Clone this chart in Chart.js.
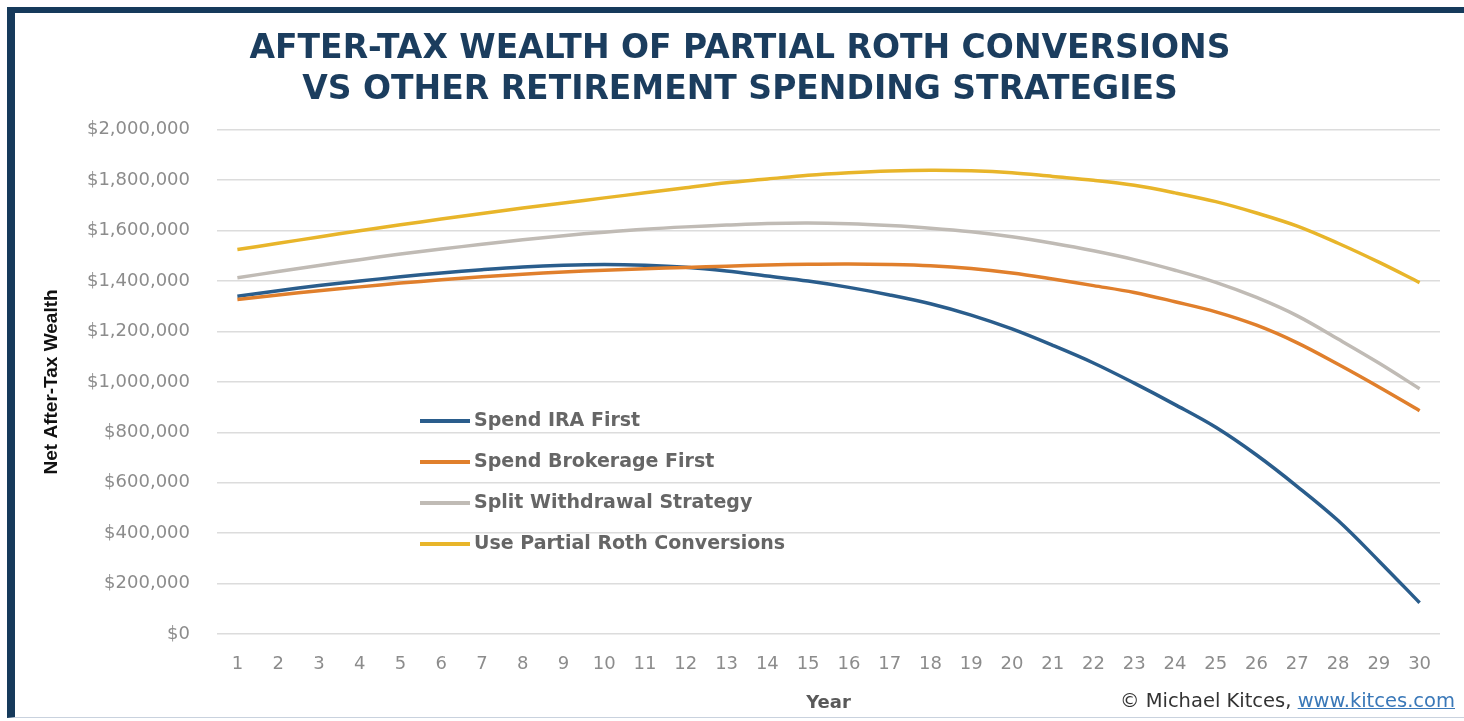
<!DOCTYPE html>
<html>
<head>
<meta charset="utf-8">
<title>After-Tax Wealth of Partial Roth Conversions</title>
<script src="https://cdn.jsdelivr.net/npm/chart.js@4.4.1/dist/chart.umd.min.js"></script>
<style>
  html, body { margin: 0; padding: 0; background: #fff; }
  body { width: 1464px; height: 721px; position: relative; overflow: hidden; }
  #frame {
    position: absolute; left: 7px; top: 7px; right: 0; bottom: 3px;
    border-left: 8px solid #163a5b; border-top: 6px solid #163a5b;
    border-bottom: 1px solid #c9d2de;
  }
  #chart { position: absolute; left: 0; top: 0; }
  #credit {
    position: absolute; right: 9px; top: 689px;
    font: 19.5px "DejaVu Sans", sans-serif; color: #333;
  }
  #credit a { color: #3a78b8; }
</style>
</head>
<body>
<div id="frame"></div>
<canvas id="chart" width="1464" height="721"></canvas>
<div id="credit">© Michael Kitces, <a href="#">www.kitces.com</a></div>

<script>
// years on the x axis
const years = ['1','2','3','4','5','6','7','8','9','10','11','12','13','14','15',
  '16','17','18','19','20','21','22','23','24','25','26','27','28','29','30'];

// net after-tax wealth
const spendIRA = [1340000,1362000,1382000,1400000,1417000,1432000,1445000,1456000,1463000,1466000,
  1463000,1455000,1440000,1420000,1400000,1375000,1345000,1310000,1265000,1210000,
  1145000,1075000,995000,910000,820000,710000,585000,450000,290000,124000];
const spendBrokerage = [1327000,1345000,1362000,1377000,1392000,1405000,1417000,1427000,1436000,1443000,
  1449000,1454000,1459000,1464000,1467000,1468000,1466000,1461000,1450000,1432000,
  1408000,1382000,1355000,1318000,1278000,1225000,1155000,1070000,980000,886000];
const splitWithdrawal = [1413000,1438000,1462000,1485000,1507000,1527000,1546000,1564000,1580000,1594000,
  1606000,1615000,1622000,1628000,1630000,1627000,1620000,1610000,1596000,1576000,
  1550000,1520000,1485000,1443000,1395000,1335000,1262000,1170000,1075000,973000];
const partialRoth = [1525000,1550000,1575000,1600000,1623000,1646000,1668000,1690000,1710000,1730000,
  1750000,1770000,1790000,1805000,1820000,1830000,1837000,1840000,1838000,1830000,
  1815000,1800000,1780000,1750000,1715000,1670000,1618000,1550000,1475000,1394000];

const yTicks = [0,200000,400000,600000,800000,1000000,1200000,1400000,1600000,1800000,2000000];

const seriesNames = ['Spend IRA First', 'Spend Brokerage First', 'Split Withdrawal Strategy', 'Use Partial Roth Conversions'];
const seriesColors = ['#2a5d8c', '#e07f2c', '#c0bbb5', '#e8b52a'];

// legend is drawn inside the plot, like the original
const inlineLegend = {
  id: 'inlineLegend',
  afterDraw(chart, args, opts) {
    const ctx = chart.ctx;
    ctx.save();
    ctx.font = 'bold 19px "DejaVu Sans", sans-serif';
    ctx.textBaseline = 'middle';
    chart.data.datasets.forEach((ds, i) => {
      const y = opts.y + i * opts.gap;
      ctx.strokeStyle = ds.borderColor;
      ctx.lineWidth = 4;
      ctx.beginPath();
      ctx.moveTo(opts.x, y);
      ctx.lineTo(opts.x + 50, y);
      ctx.stroke();
      ctx.fillStyle = '#666';
      ctx.fillText(ds.label, opts.x + 54, y);
    });
    ctx.restore();
  }
};

const allSeries = [spendIRA, spendBrokerage, splitWithdrawal, partialRoth];

new Chart(document.getElementById('chart'), {
  type: 'line',
  data: {
    labels: years,
    datasets: allSeries.map((vals, i) => ({
      label: seriesNames[i],
      data: vals,
      borderColor: seriesColors[i],
      backgroundColor: seriesColors[i],
      borderWidth: 3.5,
      pointRadius: 0,
      tension: 0.35,
      fill: false,
      order: 4 - i
    }))
  },
  options: {
    responsive: false,
    animation: false,
    layout: { padding: { top: 0, left: 40, right: 24, bottom: 7 } },
    plugins: {
      legend: { display: false },
      tooltip: { enabled: false },
      title: {
        display: true,
        text: ['AFTER-TAX WEALTH OF PARTIAL ROTH CONVERSIONS', 'VS OTHER RETIREMENT SPENDING STRATEGIES'],
        color: '#1b3d5e',
        font: { family: '"DejaVu Sans", sans-serif', size: 33, weight: 'bold', lineHeight: 1.27 },
        padding: { top: 28, bottom: 18 }
      },
      inlineLegend: { x: 420, y: 421, gap: 41 }
    },
    scales: {
      x: {
        offset: true,
        afterFit(scale) { scale.height = 721 - 634 - 7; },
        grid: { display: false },
        border: { display: false },
        ticks: { color: '#8c8c8c', font: { family: '"DejaVu Sans", sans-serif', size: 18 }, padding: 12, maxRotation: 0, autoSkip: false },
        title: { display: true, text: 'Year', color: '#595959', font: { family: '"DejaVu Sans", sans-serif', size: 18, weight: 'bold' }, padding: { top: 0, bottom: 0 } }
      },
      y: {
        min: 0,
        max: 2000000,
        afterBuildTicks(scale) { scale.ticks = yTicks.map(v => ({ value: v })); },
        afterFit(scale) { scale.width = 217 - 40; },
        grid: { color: '#dcdcdc', lineWidth: 1.5, drawTicks: false },
        border: { display: false },
        ticks: {
          color: '#8c8c8c',
          font: { family: '"DejaVu Sans", sans-serif', size: 18 },
          padding: 27,
          callback: v => '$' + v.toLocaleString('en-US')
        },
        title: {
          display: true, text: 'Net After-Tax Wealth', color: '#111',
          font: { family: '"Liberation Sans Narrow", "Liberation Sans", sans-serif', size: 19, weight: 'bold' },
          padding: { top: 0, bottom: 0 }
        }
      }
    }
  },
  plugins: [inlineLegend]
});
</script>
</body>
</html>
